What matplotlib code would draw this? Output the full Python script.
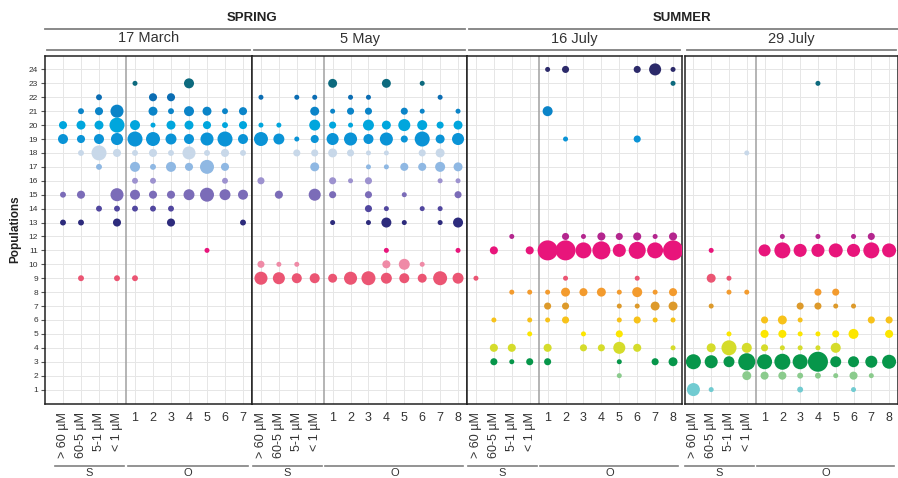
import matplotlib.pyplot as plt
import matplotlib.transforms as mtransforms
from matplotlib.lines import Line2D

plt.rcParams['font.family'] = ['Liberation Sans', 'DejaVu Sans']

# relative abundance per population (row) and sample (column)
# columns: S fractions (> 60, 60-5, 5-1, < 1 µM) followed by O samples
s_labels = ['> 60 µM', '60-5 µM', '5-1 µM', '< 1 µM']

march17 = {
    23: [0, 0, 0, 0, 1, 0, 0, 4, 0, 0, 0],
    22: [0, 0, 1.4, 0, 0, 2.6, 2.6, 0, 0, 0, 0],
    21: [0, 1.4, 2.6, 6.8, 0, 3.2, 1.4, 4, 3.2, 1.4, 2.6],
    20: [2.6, 3.2, 3.2, 9, 4, 1, 3.2, 3.2, 2.6, 1.4, 2.6],
    19: [4, 2.6, 4, 5.8, 9, 7.8, 4.8, 4, 6.8, 9, 4],
    18: [0, 1.4, 9, 2.6, 1.4, 2.6, 1.4, 6.8, 1.4, 2.6, 1.4],
    17: [0, 0, 1.4, 0, 4, 1.4, 4, 2.6, 7.8, 2.6, 0],
    16: [0, 0, 0, 0, 1.4, 1.4, 0, 0, 0, 1.4, 0],
    15: [1.4, 2.6, 0, 6.8, 4, 2.6, 2.6, 4.8, 7.8, 4.8, 4],
    14: [0, 0, 1.4, 1.4, 1.4, 1.4, 1.4, 0, 0, 0, 0],
    13: [1.4, 1.4, 0, 2.6, 0, 0, 2.6, 0, 0, 0, 1.4],
    11: [0, 0, 0, 0, 0, 0, 0, 0, 1, 0, 0],
    9:  [0, 1.4, 0, 1.4, 1.4, 0, 0, 0, 0, 0, 0],
}

may5 = {
    23: [0, 0, 0, 0, 3.2, 0, 0, 3.2, 0, 1, 0, 0],
    22: [1, 0, 1, 1, 0, 1, 1, 0, 0, 0, 1, 0],
    21: [0, 0, 0, 3.2, 1, 2, 2, 0, 2, 1, 0, 1],
    20: [1, 1, 0, 4.8, 2, 1, 4.8, 3.2, 5.8, 4, 2, 3.2],
    19: [7.8, 4.8, 1, 2.6, 5.8, 6.8, 4, 6.8, 2, 9, 3.2, 5.8],
    18: [0, 0, 2, 2, 3.2, 2, 1, 1, 0, 2, 3.2, 0],
    17: [0, 0, 0, 3.2, 0, 0, 1, 1, 2.6, 2.6, 4, 3.2],
    16: [2, 0, 0, 0, 2, 1, 2, 0, 0, 0, 1, 1],
    15: [0, 2.6, 0, 5.8, 2, 0, 2, 0, 1, 0, 0, 2],
    14: [0, 0, 0, 0, 0, 0, 2, 1, 0, 1, 1, 0],
    13: [0, 0, 0, 0, 1, 0, 1, 4, 1, 0, 1, 4],
    11: [0, 0, 0, 0, 0, 0, 0, 1, 0, 0, 0, 1],
    10: [2, 1, 1, 0, 0, 0, 0, 2.6, 4.8, 1, 0, 0],
    9:  [6.8, 5.8, 4, 4, 3.2, 6.8, 7.8, 4.8, 4, 3.2, 7.8, 4.8],
}

july16 = {
    24: [0, 0, 0, 0, 1, 2, 0, 0, 0, 2, 5.8, 1],
    23: [0, 0, 0, 0, 0, 0, 0, 0, 0, 0, 0, 1],
    21: [0, 0, 0, 0, 4, 0, 0, 0, 0, 0, 0, 0],
    19: [0, 0, 0, 0, 0, 1, 0, 0, 0, 2, 0, 0],
    12: [0, 0, 1, 0, 0, 2, 1, 2.6, 2, 2.6, 1, 2.6],
    11: [0, 2.6, 0, 2.6, 16, 16, 10.2, 13, 6.8, 11.6, 10.2, 16],
    9:  [1, 0, 0, 0, 0, 1, 0, 0, 0, 1, 0, 0],
    8:  [0, 0, 1, 1, 1, 3.2, 2.6, 3.2, 1, 4, 1, 2.6],
    7:  [0, 0, 0, 0, 2, 2, 0, 0, 1, 1, 3.2, 3.2],
    6:  [0, 1, 0, 1, 1, 2, 0, 0, 1, 2, 1, 1],
    5:  [0, 0, 0, 1, 0, 0, 1, 0, 2, 0, 0, 0],
    4:  [0, 2.6, 2.6, 0, 2.6, 0, 2, 2, 5.8, 2.6, 0, 1],
    3:  [0, 2, 1, 2, 2, 0, 0, 0, 1, 0, 2, 3.2],
    2:  [0, 0, 0, 0, 0, 0, 0, 0, 1, 0, 0, 0],
}

july29 = {
    23: [0, 0, 0, 0, 0, 0, 0, 1, 0, 0, 0, 0],
    18: [0, 0, 0, 1, 0, 0, 0, 0, 0, 0, 0, 0],
    12: [0, 0, 0, 0, 0, 1, 0, 1, 0, 1, 2, 0],
    11: [0, 1, 0, 0, 5.8, 10.2, 6.8, 6.8, 7.8, 6.8, 10.2, 7.8],
    9:  [0, 3.2, 1, 0, 0, 0, 0, 0, 0, 0, 0, 0],
    8:  [0, 0, 1, 1, 0, 0, 0, 2, 2, 0, 0, 0],
    7:  [0, 1, 0, 0, 0, 0, 2, 2, 1, 1, 0, 0],
    6:  [0, 0, 0, 0, 2, 3.2, 1, 0, 0, 0, 2, 2],
    5:  [0, 0, 1, 0, 2.6, 2.6, 1, 1, 2, 4, 0, 2.6],
    4:  [0, 3.2, 9, 4, 2, 1, 1, 1, 4, 0, 0, 0],
    3:  [9, 6.8, 4.8, 11.6, 9, 10.2, 9, 16, 4.8, 4.8, 5.8, 7.8],
    2:  [0, 0, 0, 3.2, 2.6, 2.6, 1.4, 1.4, 1, 2.6, 1, 0],
    1:  [6.8, 1, 0, 0, 0, 0, 1.4, 0, 0, 1, 0, 0],
}

pop_colors = {
    24: '#2c2a6a', 23: '#0d6a7e', 22: '#0b6db3', 21: '#0b84c8',
    20: '#00a6dd', 19: '#0a93d6', 18: '#c8d8e9', 17: '#8fb8e3',
    16: '#9d92cf', 15: '#7b6cb8', 14: '#51479f', 13: '#2d2b7c',
    12: '#b4268e', 11: '#e8157b', 10: '#ef8aa6', 9: '#eb5573',
    8: '#f39b2e', 7: '#dd9a2b', 6: '#f7c21a', 5: '#fce600',
    4: '#d5dc2b', 3: '#07964a', 2: '#8bcb8d', 1: '#71cbd1',
}

panels = [
    ('17 March', march17, 7, (45, 252), (-1.0, 10.5)),
    ('5 May', may5, 8, (252, 467), (-0.5, 11.5)),
    ('16 July', july16, 8, (467, 682), (-0.5, 11.5)),
    ('29 July', july29, 8, (684.5, 898), (-0.5, 11.5)),
]

W, H = 898, 478
fig = plt.figure(figsize=(W / 100, H / 100), dpi=100)
TOP, BOT = 55.5, 403.5
GRAY = '#808080'


def hline(x0, x1, y, **kw):
    fig.add_artist(Line2D([x0 / W, x1 / W], [1 - y / H, 1 - y / H],
                          color=GRAY, lw=1.3, **kw))


for k, (title, data, n_o, (l, r), xlim) in enumerate(panels):
    ax = fig.add_axes([l / W, 1 - BOT / H, (r - l) / W, (BOT - TOP) / H])
    ncol = 4 + n_o
    for pop, vals in data.items():
        xs = [i for i, v in enumerate(vals) if v > 0]
        sz = [13 * v for v in vals if v > 0]
        ax.scatter(xs, [pop] * len(xs), s=sz, color=pop_colors[pop],
                   edgecolors='none', zorder=3)
    ax.axvline(3.5, color='#a0a0a0', lw=1.1, zorder=2)
    ax.set_xlim(*xlim)
    ax.set_ylim(0, 25)
    ax.set_yticks(range(1, 25))
    ax.set_xticks(range(ncol))
    ax.set_xticklabels(s_labels + [str(i) for i in range(1, n_o + 1)],
                       fontsize=9, color='#333333')
    for lbl in ax.get_xticklabels()[:4]:
        lbl.set_rotation(90)
        lbl.set_va('top')
    ax.tick_params(axis='x', length=0, pad=6)
    ax.grid(True, color='#e6e6e6', lw=0.7)
    ax.set_axisbelow(True)
    for sp in ax.spines.values():
        sp.set_color('#222222')
        sp.set_linewidth(1.1)
    if k == 0:
        ax.tick_params(axis='y', labelsize=6, length=3, color='#555555',
                       pad=2, labelcolor='#333333')
    else:
        ax.tick_params(axis='y', labelleft=False, length=0)

    # panel title strip
    fig.text((l + r) / 2 / W, 1 - 38.5 / H, title, ha='center', va='center',
             fontsize=10.5, color='#333333')
    hline(l + 2, r - 2, 50)

    # S / O groups under the axis
    trans = mtransforms.blended_transform_factory(ax.transData, fig.transFigure)
    yb = 1 - 466 / H
    for x0, x1, name in [(-0.45, 3.4, 'S'), (3.6, ncol - 1 + 0.3, 'O')]:
        fig.add_artist(Line2D([x0, x1], [yb, yb], transform=trans,
                              color=GRAY, lw=1.2))
        fig.text((x0 + x1) / 2, 1 - 473.5 / H, name, transform=trans,
                 ha='center', va='center', fontsize=8, color='#333333')

# season strips
hline(45, 465, 28.5)
hline(469, 898, 28.5)
fig.text(252 / W, 1 - 18 / H, 'SPRING', ha='center', va='center',
         fontsize=9.5, fontweight='bold', color='#222222')
fig.text(682 / W, 1 - 18 / H, 'SUMMER', ha='center', va='center',
         fontsize=9.5, fontweight='bold', color='#222222')

fig.text(15 / W, 1 - 229 / H, 'Populations', rotation=90, ha='center',
         va='center', fontsize=8.5, fontweight='bold', color='#222222')

fig.savefig('out.png', dpi=100)
